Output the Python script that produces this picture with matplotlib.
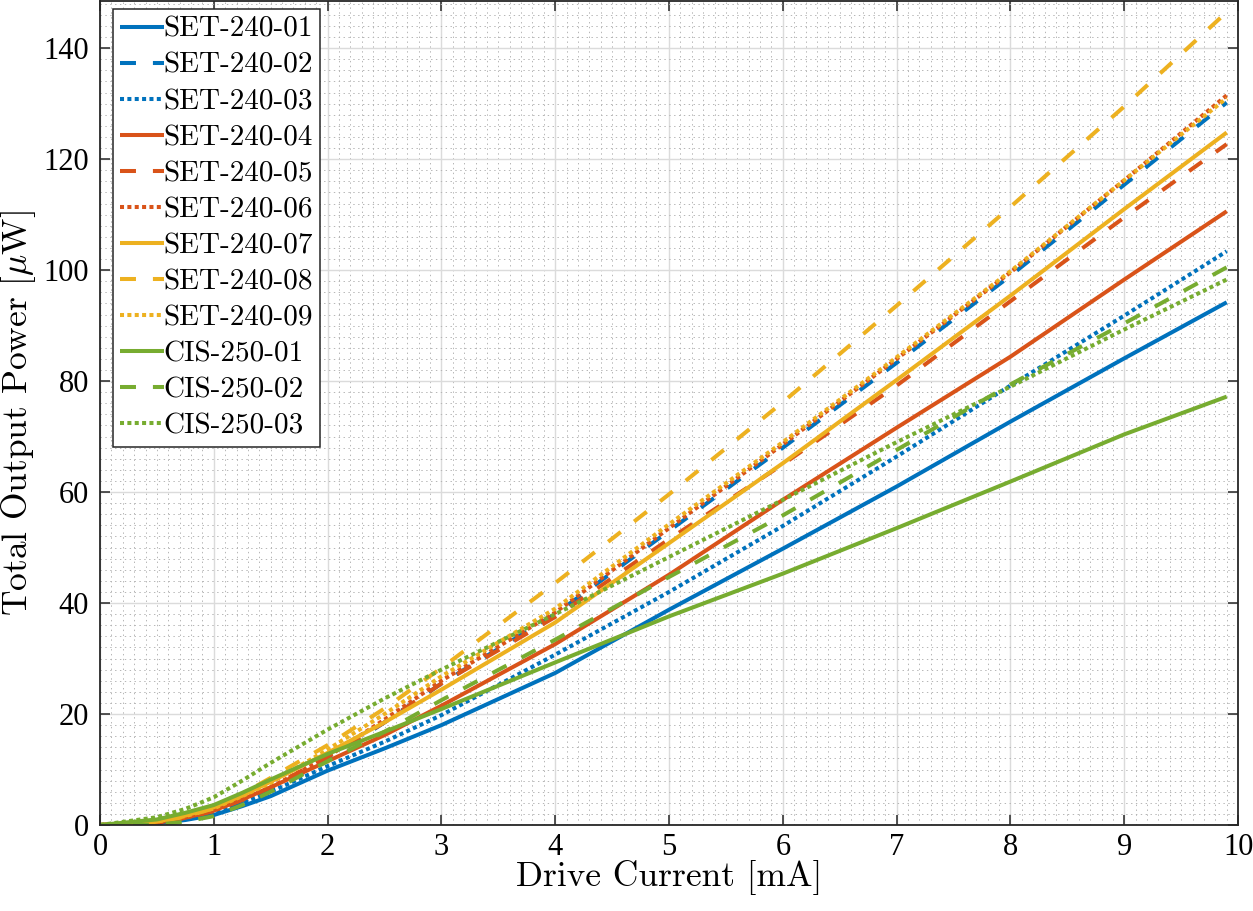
import numpy as np
import matplotlib
matplotlib.use("Agg")
from matplotlib import pyplot as plt
from matplotlib.ticker import MultipleLocator

# Drive current [mA] at which the curves were read
current = [0, 0.5, 0.75, 1, 1.25, 1.5, 2, 2.5, 3, 4, 5, 6, 7, 8, 9, 9.9]

# Total output power [uW]
set_240_01 = [0, 0.3, 0.9, 1.8, 3.4, 5.2, 9.8, 13.8, 18.0, 27.4, 38.8, 49.8, 61.0, 72.7, 84.1, 94.2]
set_240_02 = [0, 0.3, 1.1, 2.3, 4.2, 6.4, 11.8, 18.5, 25.5, 38.0, 53.0, 68.0, 83.3, 99.0, 115.4, 130.2]
set_240_03 = [0, 0.3, 1.0, 2.2, 4.0, 6.0, 10.6, 15.0, 19.8, 30.7, 42.0, 53.9, 66.4, 79.2, 91.8, 103.4]
set_240_04 = [0, 0.4, 1.3, 2.6, 4.6, 6.8, 11.5, 16.2, 21.5, 32.6, 45.1, 58.6, 71.6, 84.4, 98.3, 110.6]
set_240_05 = [0, 0.4, 1.2, 2.5, 4.5, 6.8, 12.3, 18.5, 25.5, 37.5, 51.5, 65.0, 79.2, 94.4, 109.5, 122.7]
set_240_06 = [0, 0.4, 1.3, 2.6, 4.6, 6.8, 12.3, 19.0, 26.0, 38.3, 53.5, 68.6, 84.0, 99.6, 116.2, 131.5]
set_240_07 = [0, 0.6, 1.7, 3.2, 5.3, 7.8, 13.0, 18.5, 24.4, 36.5, 50.8, 65.2, 80.2, 95.4, 111.0, 124.8]
set_240_08 = [0, 0.5, 1.5, 3.0, 5.6, 8.5, 14.4, 21.0, 28.3, 43.6, 59.6, 76.2, 93.6, 111.4, 129.5, 146.5]
set_240_09 = [0, 0.6, 1.6, 3.0, 5.2, 7.6, 13.6, 20.0, 26.8, 39.0, 54.2, 69.0, 84.3, 99.8, 116.2, 131.0]
cis_250_01 = [0, 1.0, 2.2, 3.6, 5.8, 8.2, 12.8, 16.8, 20.9, 29.3, 37.6, 45.3, 53.5, 61.9, 70.4, 77.2]
cis_250_02 = [0, 0.05, 0.6, 1.6, 3.6, 6.0, 11.5, 16.8, 22.5, 33.4, 44.7, 55.8, 67.6, 79.4, 90.4, 100.5]
cis_250_03 = [0, 1.4, 2.9, 5.0, 8.0, 11.2, 17.2, 22.8, 28.0, 38.0, 48.3, 58.6, 69.0, 79.0, 89.3, 98.3]

labels = ['SET-240-01', 'SET-240-02', 'SET-240-03',
          'SET-240-04', 'SET-240-05', 'SET-240-06',
          'SET-240-07', 'SET-240-08', 'SET-240-09',
          'CIS-250-01', 'CIS-250-02', 'CIS-250-03']
series = [set_240_01, set_240_02, set_240_03,
          set_240_04, set_240_05, set_240_06,
          set_240_07, set_240_08, set_240_09,
          cis_250_01, cis_250_02, cis_250_03]

# MATLAB default colour order, one colour per device family of three
colors = ['#0072BD', '#D95319', '#EDB120', '#77AC30']
styles = [(0, ()), (0, (11.5, 12.2)), (0, (2.9, 2.4))]

plt.rcParams['lines.scale_dashes'] = False
plt.rcParams['mathtext.fontset'] = 'cm'

fig = plt.figure(figsize=(12.53, 9.11), dpi=100)
ax = fig.add_axes([0.0798, 0.0944, 0.9083, 0.9045])

for i, (y, lab) in enumerate(zip(series, labels)):
    ax.plot(current, y, color=colors[i // 3], linestyle=styles[i % 3],
            linewidth=2.9, label=lab)

ax.set_xlim(0, 10)
ax.set_ylim(0, 148.5)
ax.xaxis.set_major_locator(MultipleLocator(1))
ax.yaxis.set_major_locator(MultipleLocator(20))
ax.xaxis.set_minor_locator(MultipleLocator(0.1))
ax.yaxis.set_minor_locator(MultipleLocator(2))

ax.grid(which='major', color='#DBDBDB', linewidth=1.0, linestyle='-')
ax.grid(which='minor', color='#B5B5B5', linewidth=0.7, linestyle=(0, (1, 2.5)))
ax.set_axisbelow(True)

ax.tick_params(which='major', direction='in', length=7, width=1.1,
               top=True, right=True, colors='#262626', labelcolor='black',
               labelsize=22, pad=8)
ax.tick_params(axis='x', which='major', pad=6)
ax.tick_params(which='minor', length=0, top=True, right=True)
for lbl in ax.get_xticklabels() + ax.get_yticklabels():
    lbl.set_family('Liberation Serif')
for sp in ax.spines.values():
    sp.set_color('#262626')
    sp.set_linewidth(1.3)

ax.set_xlabel('Drive Current [mA]', family='cmr10', fontsize=25.5, labelpad=-2)
ax.set_ylabel(r'Total Output Power [$\mu$W]', family='cmr10', fontsize=25.5, labelpad=4)

leg = ax.legend(loc='upper left', bbox_to_anchor=(0.011, 0.99),
                prop={'family': 'cmr10', 'size': 21}, handlelength=1.5,
                handletextpad=0.0, labelspacing=0.33, borderpad=0.25,
                borderaxespad=0.0, fancybox=False, framealpha=1)
leg.get_frame().set_edgecolor('#262626')
leg.get_frame().set_linewidth(1.1)

fig.savefig('out.png', dpi=100)
